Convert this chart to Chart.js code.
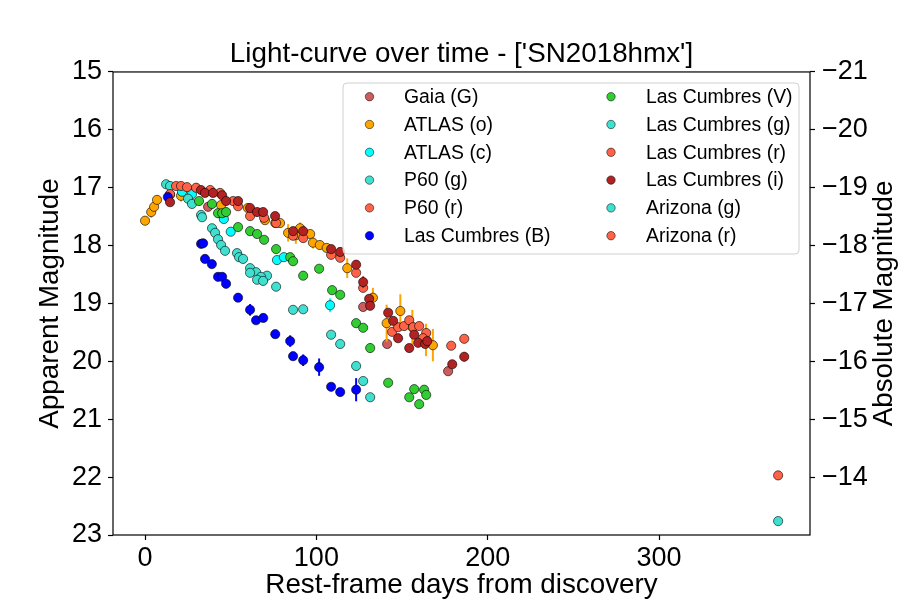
<!DOCTYPE html>
<html><head><meta charset="utf-8">
<script src="https://cdn.jsdelivr.net/npm/chart.js@4.4.1/dist/chart.umd.min.js"></script>
<style>html,body{margin:0;padding:0;background:#fff;overflow:hidden}canvas{display:block}</style>
</head><body><canvas id="c" width="900" height="600"></canvas>
<script>
// ---- data (rest-frame days, apparent magnitude, error) ----
const gaiaDays = [36.8, 127.3, 141.3, 176.9];
const gaiaMag  = [17.33, 19.06, 19.70, 20.17];
const gaiaErr  = [0.03, 0.04, 0.05, 0.06];

const atlasODays = [0, 3.6, 5.3, 7.0, 14.6, 21, 43.8, 44.4, 60, 70, 76, 78.8, 83.5, 88, 90.5, 96.4, 98, 102, 106, 118, 133, 141, 149, 156, 164, 168];
const atlasOMag  = [17.57, 17.42, 17.33, 17.21, 17.12, 17.14, 17.44, 17.30, 17.35, 17.56, 17.61, 17.61, 17.78, 17.82, 17.70, 17.80, 17.95, 17.99, 18.04, 18.39, 18.90, 19.34, 19.13, 19.41, 19.63, 19.72];
const atlasOErr  = [0.03, 0.1, 0.1, 0.08, 0.12, 0.1, 0.1, 0.05, 0.08, 0.05, 0.05, 0.05, 0.15, 0.15, 0.1, 0.05, 0.1, 0.08, 0.05, 0.17, 0.17, 0.32, 0.29, 0.3, 0.28, 0.28];

const atlasCDays = [21.6, 27.4, 46, 50, 77, 81, 108];
const atlasCMag  = [17.07, 17.11, 17.54, 17.76, 18.25, 18.20, 19.03];
const atlasCErr  = [0.03, 0.03, 0.04, 0.04, 0.05, 0.05, 0.12];

const p60gDays = [12.3, 14.6, 25.1, 27.4, 32.7, 33.3];
const p60gMag  = [16.94, 16.97, 17.19, 17.28, 17.47, 17.51];

const p60rDays = [14.6, 18.1, 21, 24.5, 29.8, 38, 43.8, 51.4, 54.3];
const p60rMag  = [17.11, 16.97, 16.97, 16.99, 17.00, 17.04, 17.09, 17.23, 17.32];

const lcBDays = [13.3, 32.7, 33.9, 35, 39, 42.6, 45, 47.3, 54.3, 61.3, 64.8, 69, 76, 84.7, 86.4, 92.3, 101.6, 108.6, 113.9, 123.2];
const lcBMag  = [17.16, 17.97, 17.96, 18.23, 18.32, 18.54, 18.54, 18.66, 18.90, 19.11, 19.29, 19.25, 19.53, 19.65, 19.91, 19.98, 20.10, 20.44, 20.53, 20.49];
const lcBErr  = [0.02, 0.02, 0.02, 0.02, 0.02, 0.02, 0.02, 0.02, 0.03, 0.1, 0.05, 0.03, 0.03, 0.1, 0.06, 0.1, 0.15, 0.03, 0.03, 0.2];

const lcVDays = [31.5, 39.1, 42.6, 45, 47.3, 54.3, 61.3, 65.4, 69.5, 76.5, 84.7, 86.4, 92.3, 101.6, 109.2, 113.9, 123.2, 127.3, 131.4, 141.9, 154.2, 157.1, 160, 162.9, 164.1];
const lcVMag  = [17.23, 17.28, 17.44, 17.44, 17.42, 17.68, 17.75, 17.80, 17.90, 18.06, 18.20, 18.27, 18.52, 18.40, 18.77, 18.85, 19.34, 19.42, 19.77, 20.37, 20.62, 20.48, 20.74, 20.49, 20.58];
const lcVErr  = [0.02, 0.02, 0.02, 0.02, 0.02, 0.02, 0.02, 0.02, 0.02, 0.02, 0.02, 0.02, 0.03, 0.03, 0.03, 0.03, 0.03, 0.03, 0.08, 0.04, 0.04, 0.04, 0.06, 0.04, 0.05];

const lcgDays = [39.1, 40.9, 42.6, 44.4, 46.7, 53.7, 54.9, 57.2, 61.3, 64.8, 61.3, 71.2, 67.7, 65.4, 68.9, 76.5, 86.4, 92.3, 108.6, 113.9, 123.2, 127.3, 131.4];
const lcgMag  = [17.70, 17.78, 17.89, 17.99, 18.09, 18.13, 18.20, 18.23, 18.39, 18.46, 18.47, 18.52, 18.54, 18.59, 18.61, 18.71, 19.11, 19.10, 19.54, 19.70, 20.08, 20.34, 20.62];

const lcrDays = [61.3, 69.5, 76.5, 86.4, 92.3, 108.6, 113.9, 123.2, 127.3, 144.2, 147.7, 151.2, 154.2, 156.5, 160, 164.1, 162.3, 178.7, 186.3];
const lcrMag  = [17.49, 17.52, 17.61, 17.83, 17.87, 18.16, 18.21, 18.47, 18.73, 19.49, 19.41, 19.39, 19.29, 19.41, 19.39, 19.51, 19.60, 19.73, 19.61];

const lciDays = [14.6, 32.7, 35, 39.7, 45, 47.3, 54.3, 61.3, 65.4, 68.9, 75.9, 86.4, 92.3, 108.6, 113.9, 123.2, 127.3, 130.8, 131.4, 141.9, 144.8, 147.7, 154.2, 157.1, 159.4, 163.5, 164.7, 179.3, 186.3];
const lciMag  = [17.25, 17.04, 17.09, 17.09, 17.13, 17.23, 17.23, 17.35, 17.42, 17.42, 17.49, 17.75, 17.75, 18.06, 18.11, 18.33, 18.63, 18.92, 19.04, 19.16, 19.30, 19.60, 19.77, 19.54, 19.68, 19.70, 19.65, 20.05, 19.92];
const lciErr  = [0.02, 0.02, 0.02, 0.02, 0.02, 0.02, 0.02, 0.02, 0.02, 0.02, 0.02, 0.02, 0.02, 0.02, 0.02, 0.02, 0.1, 0.04, 0.04, 0.05, 0.05, 0.05, 0.05, 0.05, 0.05, 0.05, 0.05, 0.06, 0.08];

const azgDays = [369.5];
const azgMag  = [22.76];
const azgErr  = [0.06];
const azrDays = [369.5];
const azrMag  = [21.97];
const azrErr  = [0.07];

const seriesLabels = ['Gaia (G)', 'ATLAS (o)', 'ATLAS (c)', 'P60 (g)', 'P60 (r)', 'Las Cumbres (B)',
                      'Las Cumbres (V)', 'Las Cumbres (g)', 'Las Cumbres (r)', 'Las Cumbres (i)', 'Arizona (g)', 'Arizona (r)'];
const seriesColors = ['#CD5C5C', '#FFA500', '#00FFFF', '#40E0D0', '#FF6347', '#0000FF',
                      '#32CD32', '#40E0D0', '#FF6347', '#B22222', '#40E0D0', '#FF6347'];
const seriesData = [
  [gaiaDays, gaiaMag, gaiaErr], [atlasODays, atlasOMag, atlasOErr], [atlasCDays, atlasCMag, atlasCErr],
  [p60gDays, p60gMag, null], [p60rDays, p60rMag, null], [lcBDays, lcBMag, lcBErr],
  [lcVDays, lcVMag, lcVErr], [lcgDays, lcgMag, null], [lcrDays, lcrMag, null],
  [lciDays, lciMag, lciErr], [azgDays, azgMag, azgErr], [azrDays, azrMag, azrErr]
];
const xTicks = [0, 100, 200, 300];
const yTicks = [15, 16, 17, 18, 19, 20, 21, 22, 23];
const y2Ticks = [-21, -20, -19, -18, -17, -16, -15, -14];
const distanceModulus = 36;
const titleText = "Light-curve over time - ['SN2018hmx']";
const xLabel = 'Rest-frame days from discovery';
const yLabel = 'Apparent Magnitude';
const y2Label = 'Absolute Magnitude';

const FONT = "'Liberation Sans', Arial, Helvetica, sans-serif";

const datasets = seriesData.map((s, i) => ({
  label: seriesLabels[i],
  data: s[0].map((d, k) => ({ x: d, y: s[1][k] })),
  errs: s[2],
  backgroundColor: seriesColors[i],
  borderColor: 'rgba(0,0,0,0.75)',
  borderWidth: 0.8,
  pointRadius: 4.6,
  pointHoverRadius: 4.6,
  order: -i,
  yAxisID: 'y'
}));

const errorBars = {
  id: 'errorBars',
  beforeDatasetDraw(chart, args) {
    const ds = chart.data.datasets[args.index];
    if (!ds.errs) return;
    const { ctx, chartArea } = chart;
    const xs = chart.scales.x, ys = chart.scales.y;
    ctx.save();
    ctx.beginPath();
    ctx.rect(chartArea.left, chartArea.top, chartArea.right - chartArea.left, chartArea.bottom - chartArea.top);
    ctx.clip();
    ctx.strokeStyle = ds.backgroundColor;
    ctx.lineWidth = 2;
    ds.data.forEach((p, k) => {
      const e = ds.errs[k];
      const px = xs.getPixelForValue(p.x);
      ctx.beginPath();
      ctx.moveTo(px, ys.getPixelForValue(p.y - e));
      ctx.lineTo(px, ys.getPixelForValue(p.y + e));
      ctx.stroke();
    });
    ctx.restore();
  }
};

const frameAndLegend = {
  id: 'frameAndLegend',
  afterDraw(chart) {
    const { ctx, chartArea: a } = chart;
    ctx.save();
    ctx.strokeStyle = '#000';
    ctx.lineWidth = 1.2;
    ctx.strokeRect(a.left, a.top, a.right - a.left, a.bottom - a.top);
    // right-hand axis title, reading bottom to top
    ctx.save();
    ctx.translate(884, (a.top + a.bottom) / 2);
    ctx.rotate(-Math.PI / 2);
    ctx.font = '27.8px ' + FONT;
    ctx.fillStyle = '#000';
    ctx.textAlign = 'center';
    ctx.textBaseline = 'middle';
    ctx.fillText(y2Label, 0, 0);
    ctx.restore();
    // legend box
    const bx = 343, by = 83, bw = 456, bh = 171, r = 4;
    ctx.beginPath();
    ctx.moveTo(bx + r, by);
    ctx.arcTo(bx + bw, by, bx + bw, by + bh, r);
    ctx.arcTo(bx + bw, by + bh, bx, by + bh, r);
    ctx.arcTo(bx, by + bh, bx, by, r);
    ctx.arcTo(bx, by, bx + bw, by, r);
    ctx.closePath();
    ctx.fillStyle = 'rgba(255,255,255,0.8)';
    ctx.fill();
    ctx.strokeStyle = '#d0d0d0';
    ctx.lineWidth = 1;
    ctx.stroke();
    ctx.font = '19.4px ' + FONT;
    ctx.textBaseline = 'middle';
    ctx.textAlign = 'left';
    chart.data.datasets.forEach((ds, i) => {
      const col = i < 6 ? 0 : 1, row = i % 6;
      const my = 96.7 + row * 27.8;
      const mx = col === 0 ? 369.5 : 611;
      const tx = col === 0 ? 404 : 646;
      ctx.beginPath();
      ctx.arc(mx, my, 4.2, 0, Math.PI * 2);
      ctx.fillStyle = ds.backgroundColor;
      ctx.fill();
      ctx.strokeStyle = 'rgba(0,0,0,0.75)';
      ctx.lineWidth = 0.7;
      ctx.stroke();
      ctx.fillStyle = '#000';
      ctx.fillText(ds.label, tx, my + 1);
    });
    ctx.restore();
  }
};

const tickFont = { family: FONT, size: 27 };
const labelFont = { family: FONT, size: 27.8, lineHeight: 1.05 };
const gridOpts = { display: true, drawOnChartArea: false, drawTicks: true, tickLength: 5, tickColor: '#000', tickWidth: 1.2 };

new Chart(document.getElementById('c'), {
  type: 'scatter',
  data: { datasets },
  options: {
    responsive: false,
    animation: false,
    events: [],
    layout: { padding: 0 },
    plugins: {
      legend: { display: false },
      tooltip: { enabled: false },
      title: {
        display: true,
        fullSize: false,
        text: titleText,
        color: '#000',
        font: { family: FONT, size: 27.8, weight: 'normal', lineHeight: 1.2 },
        padding: { top: 37.3, bottom: 1.3 }
      }
    },
    scales: {
      x: {
        type: 'linear', min: -18.7, max: 388.1,
        afterBuildTicks: s => { s.ticks = xTicks.map(v => ({ value: v })); },
        afterFit: s => { s.height = 65; },
        ticks: { font: tickFont, color: '#000', padding: 2, maxRotation: 0 },
        grid: gridOpts,
        border: { display: false },
        title: { display: true, text: xLabel, color: '#000', font: labelFont, padding: { top: 0, bottom: 0 } }
      },
      y: {
        type: 'linear', position: 'left', min: 15, max: 23, reverse: true,
        afterBuildTicks: s => { s.ticks = yTicks.map(v => ({ value: v })); },
        afterFit: s => { s.width = 113; },
        ticks: { font: tickFont, color: '#000', padding: 6 },
        grid: gridOpts,
        border: { display: false },
        title: { display: true, text: yLabel, color: '#000', font: labelFont, padding: { top: 36, bottom: 0 } }
      },
      y2: {
        type: 'linear', position: 'right', min: 15 - distanceModulus, max: 23 - distanceModulus, reverse: true,
        afterBuildTicks: s => { s.ticks = y2Ticks.map(v => ({ value: v })); },
        afterFit: s => { s.width = 90; },
        ticks: { font: tickFont, color: '#000', padding: 7, callback: v => (v < 0 ? '\u2212' : '') + Math.abs(v) },
        grid: gridOpts,
        border: { display: false },
        title: { display: false }
      }
    }
  },
  plugins: [errorBars, frameAndLegend]
});
</script>
</body></html>
